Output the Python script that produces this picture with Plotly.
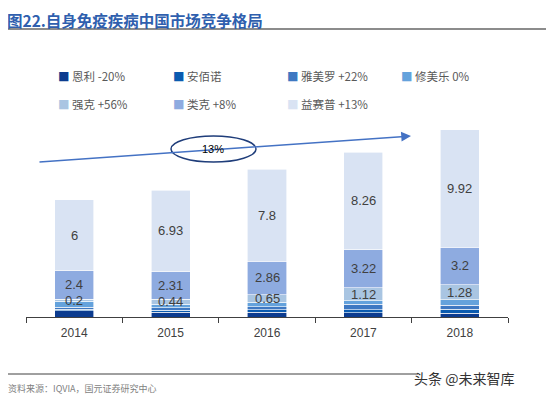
import plotly.graph_objects as go

years = ["2014", "2015", "2016", "2017", "2018"]
enli = [0.55, 0.42, 0.40, 0.38, 0.32]        # 恩利
anbainuo = [0.12, 0.14, 0.20, 0.22, 0.35]    # 安佰诺
yameiluo = [0.15, 0.22, 0.28, 0.48, 0.33]    # 雅美罗
xiumeile = [0.50, 0.30, 0.35, 0.30, 0.45]    # 修美乐
qiangke = [0.2, 0.44, 0.65, 1.12, 1.28]      # 强克
leike = [2.4, 2.31, 2.86, 3.22, 3.2]         # 类克
yisaipu = [6, 6.93, 7.8, 8.26, 9.92]         # 益赛普

legend_labels = ["恩利 -20%", "安佰诺", "雅美罗 +22%", "修美乐 0%",
                 "强克 +56%", "类克 +8%", "益赛普 +13%"]
series = [enli, anbainuo, yameiluo, xiumeile, qiangke, leike, yisaipu]
colors = ["#0b3b8f", "#0a5bb0", "#3e78c2", "#64a2dc", "#a9c5e2", "#8eabe0", "#d9e3f3"]
labelled = [False, False, False, False, True, True, True]

OFF = 8  # page body margin
W, H = 554 - OFF, 397 - OFF
ML, MR, MT, MB = 26 - OFF, 554 - 508, 115 - OFF, 397 - 317
PW, PH = W - ML - MR, H - MT - MB


def px(x):
    return (x - OFF - ML) / PW


def py(y):
    return (MT + PH - (y - OFF)) / PH


fig = go.Figure()
base = [0.0] * len(years)
annotations = []
for vals, name, col, lab in zip(series, legend_labels, colors, labelled):
    fig.add_trace(go.Bar(
        x=years, y=vals, name=name,
        marker=dict(color=col, line=dict(color="white", width=0.6)),
        showlegend=False,
    ))
    if lab:
        for i, (v, b) in enumerate(zip(vals, base)):
            annotations.append(dict(
                x=i, y=b + v / 2, xref="x", yref="y", text=str(v),
                xanchor="center", yanchor="middle",
                showarrow=False, font=dict(family="Liberation Sans", size=13, color="#404040"),
            ))
    base = [b + v for b, v in zip(base, vals)]

# custom legend
leg_x = [56, 171, 285, 399]
leg_y = [76, 104]
for i, (name, col) in enumerate(zip(legend_labels, colors)):
    r, c = divmod(i, 4)
    annotations.append(dict(
        x=px(leg_x[c]), y=py(leg_y[r]), xref="paper", yref="paper",
        xanchor="left", yanchor="middle", showarrow=False,
        text=f"<span style='color:{col}'>■</span> {name}",
        font=dict(family="Noto Sans CJK SC", size=11.5, color="#595959"),
    ))

# title
annotations.append(dict(
    x=px(6), y=py(8), xref="paper", yref="paper", xanchor="left", yanchor="top",
    showarrow=False, borderpad=0, text="<b>图22.自身免疫疾病中国市场竞争格局</b>",
    font=dict(family="Noto Sans CJK SC", size=15.5, color="#2f5fae"),
))
# source
annotations.append(dict(
    x=px(6), y=py(388), xref="paper", yref="paper", xanchor="left", yanchor="middle",
    showarrow=False, text="资料来源：IQVIA，国元证券研究中心",
    font=dict(family="Noto Sans CJK SC", size=9, color="#7f7f7f"),
))
# watermark
annotations.append(dict(
    x=px(516), y=py(378), xref="paper", yref="paper", xanchor="right", yanchor="middle",
    showarrow=False, text="头条 @未来智库",
    font=dict(family="Noto Sans CJK SC", size=14, color="#333333"),
))
# growth arrow
annotations.append(dict(
    x=px(411), y=py(136), ax=38 - 411, ay=162 - 136,
    xref="paper", yref="paper", axref="pixel", ayref="pixel",
    showarrow=True, arrowhead=2, arrowsize=1.3, arrowwidth=1.5, arrowcolor="#4472c4", text="",
))

shapes = [
    dict(type="line", xref="paper", yref="paper", x0=px(8), x1=px(546),
         y0=py(29), y1=py(29), line=dict(color="#8c8c8c", width=2)),
    dict(type="line", xref="paper", yref="paper", x0=px(8), x1=px(418),
         y0=py(374), y1=py(374), line=dict(color="#404040", width=1)),
    dict(type="circle", xref="paper", yref="paper", x0=px(171), x1=px(256),
         y0=py(162), y1=py(136), fillcolor="white",
         line=dict(color="#1f3d7a", width=1.5), layer="above"),
]

annotations.append(dict(
    x=px(213), y=py(149), xref="paper", yref="paper", showarrow=False,
    xanchor="center", yanchor="middle",
    text="13%", font=dict(family="Liberation Sans Narrow, Liberation Sans", size=11, color="#000000"),
))

fig.update_layout(
    barmode="stack", bargap=0.595,
    width=W, height=H,
    margin=dict(l=ML, r=MR, t=MT, b=MB),
    paper_bgcolor="white", plot_bgcolor="white",
    annotations=annotations, shapes=shapes,
    xaxis=dict(type="category", range=[-0.5, 4.5], showline=True, linecolor="#404040", linewidth=1,
               ticks="outside", tickson="boundaries", ticklen=5, tickcolor="#404040",
               ticklabelstandoff=5,
               tickfont=dict(family="Liberation Sans", size=12, color="#404040"), showgrid=False),
    yaxis=dict(range=[0, PH / 11.8], visible=False, showgrid=False),
    showlegend=False,
)

fig.write_html("out.html")
